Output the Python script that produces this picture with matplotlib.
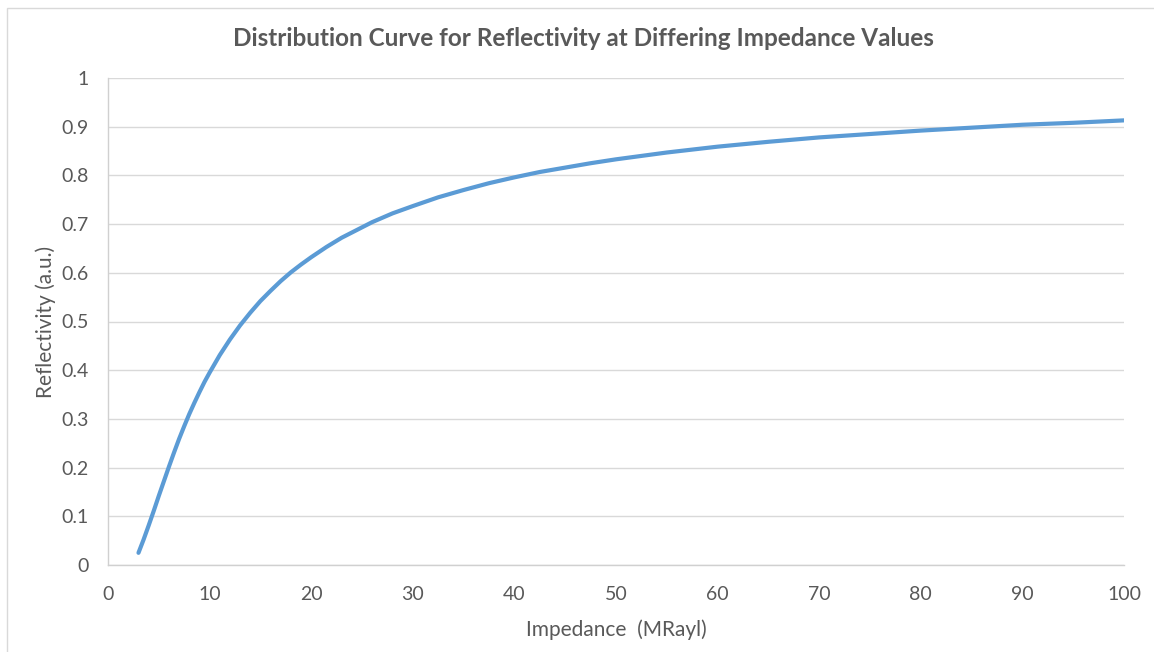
import matplotlib.pyplot as plt
from matplotlib.patches import Rectangle

# Reflectivity vs impedance
impedance = [3, 3.5, 4, 4.5, 5, 5.5, 6, 6.5, 7, 7.5, 8, 8.5, 9, 9.5, 10, 11, 12,
             13, 14, 15, 16, 17, 18, 19, 20, 21.5, 23, 24.5, 26, 28, 30, 32.5,
             35, 37.5, 40, 42.5, 45, 47.5, 50, 55, 60, 65, 70, 75, 80, 85, 90,
             95, 100]
reflectivity = [0.025, 0.052, 0.081, 0.111, 0.142, 0.172, 0.202, 0.231, 0.259,
                0.285, 0.310, 0.333, 0.355, 0.376, 0.395, 0.431, 0.463, 0.492,
                0.518, 0.542, 0.563, 0.583, 0.601, 0.617, 0.632, 0.653, 0.672,
                0.688, 0.704, 0.722, 0.737, 0.755, 0.770, 0.784, 0.796, 0.807,
                0.816, 0.825, 0.833, 0.847, 0.859, 0.869, 0.878, 0.885, 0.892,
                0.898, 0.904, 0.908, 0.913]

x_ticks = list(range(0, 101, 10))
y_ticks = [0, 0.1, 0.2, 0.3, 0.4, 0.5, 0.6, 0.7, 0.8, 0.9, 1]
y_tick_labels = ['0', '0.1', '0.2', '0.3', '0.4', '0.5', '0.6', '0.7', '0.8', '0.9', '1']

text_col = '#595959'
plt.rcParams['font.family'] = ['Lato', 'DejaVu Sans']

fig = plt.figure(figsize=(11.54, 6.52), dpi=100)
W, H = 1154, 652

# chart area frame
fig.patches.append(Rectangle((7 / W, -0.05), 1.2, 1 - 8 / H + 0.05,
                             transform=fig.transFigure, fill=False,
                             edgecolor='#D9D9D9', linewidth=1))

ax = fig.add_axes([108 / W, 1 - 565 / H, (1124 - 108) / W, (565 - 78) / H])
ax.plot(impedance, reflectivity, color='#5B9BD5', linewidth=3,
        solid_capstyle='round', solid_joinstyle='round')

ax.set_xlim(0, 100)
ax.set_ylim(0, 1)
ax.set_xticks(x_ticks)
ax.set_yticks(y_ticks)
ax.set_yticklabels(y_tick_labels)
ax.tick_params(length=0, labelsize=14, labelcolor=text_col)
ax.tick_params(axis='x', pad=15)
ax.tick_params(axis='y', pad=14)

ax.grid(axis='y', color='#D9D9D9', linewidth=1)
ax.set_axisbelow(True)
for side in ['top', 'right']:
    ax.spines[side].set_visible(False)
for side in ['left', 'bottom']:
    ax.spines[side].set_color('#D0D0D0')
    ax.spines[side].set_linewidth(1)

ax.set_xlabel('Impedance  (MRayl)', fontsize=15, color=text_col, labelpad=12)
ax.set_ylabel('Reflectivity (a.u.)', fontsize=15, color=text_col, labelpad=4)

fig.text(583 / W, 1 - 38 / H,
         'Distribution Curve for Reflectivity at Differing Impedance Values',
         ha='center', va='center', fontsize=17.5, fontweight='bold', color=text_col)

fig.savefig('out.png', dpi=100)
